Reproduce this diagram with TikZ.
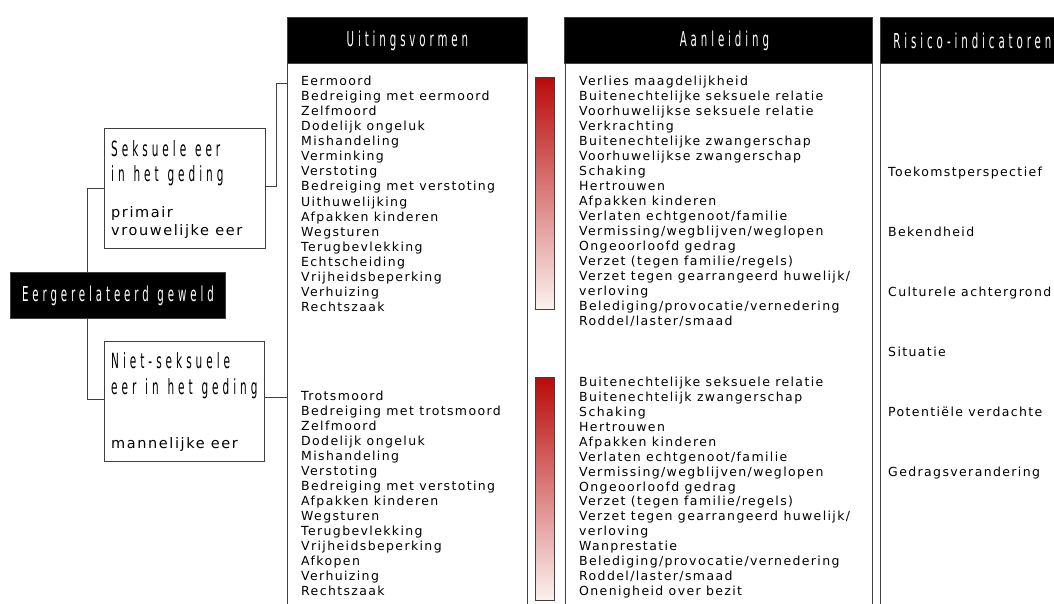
\documentclass[tikz,border=0pt]{standalone}
\usepackage{fontspec}
\newfontfamily\headfont[FakeStretch=0.5,LetterSpace=19,WordSpace=1.2]{DejaVu Sans}
\newfontfamily\bodyfont[LetterSpace=11]{DejaVu Sans}
\definecolor{linegray}{HTML}{404040}
\definecolor{bartop}{RGB}{185,10,10}
\definecolor{barmid}{RGB}{208,88,72}
\definecolor{barbot}{RGB}{251,242,240}
\begin{document}
\begin{tikzpicture}[x=1pt,y=-1pt,
  frame/.style={draw=linegray, line width=0.9pt, anchor=north west, inner sep=0pt},
  head/.style={fill=black, draw=linegray, line width=0.8pt, text=white, anchor=north west, inner sep=0pt, font=\fontsize{20.5}{24}\headfont},
  lbox/.style={draw=linegray, line width=0.9pt, fill=white, anchor=north west, inner sep=0pt},
  boxtitle/.style={anchor=base west, inner sep=0pt, font=\fontsize{21}{24}\headfont},
  boxsub/.style={anchor=base west, inner sep=0pt, font=\fontsize{14.5}{18}\bodyfont},
  item/.style={anchor=base west, inner sep=0pt, font=\fontsize{12.5}{15}\bodyfont},
  bar/.style={draw=linegray, line width=0.8pt, anchor=north west, inner sep=0pt, minimum width=19pt, top color=bartop, middle color=barmid, bottom color=barbot},
  conn/.style={draw=linegray, line width=0.9pt}]
\useasboundingbox (0,0) rectangle (1054,603);
\begin{scope}
\clip (0,0) rectangle (1054,603);
% columns
\node[frame, minimum width=240pt, minimum height=640pt] (ucol) at (287,17) {};
\node[frame, minimum width=307pt, minimum height=640pt] (acol) at (565,17) {};
\node[frame, minimum width=200pt, minimum height=640pt] (rcol) at (880,17) {};
\node[head, minimum width=240pt, minimum height=46pt] (uhead) at (287,17) {Uitingsvormen};
\node[head, minimum width=308pt, minimum height=46pt] (ahead) at (564,17) {\hspace{12pt}Aanleiding};
\node[head, minimum width=184pt, minimum height=46pt] (rhead) at (880,17) {Risico-indicatoren};
% gradient bars
\node[bar, minimum height=232pt] (bar1) at (535,77) {};
\node[bar, minimum height=223pt] (bar2) at (535,377) {};
% lists
\foreach \t [count=\i from 0] in {Eermoord, Bedreiging met eermoord, Zelfmoord, Dodelijk ongeluk, Mishandeling, Verminking, Verstoting, Bedreiging met verstoting, Uithuwelijking, Afpakken kinderen, Wegsturen, Terugbevlekking, Echtscheiding, Vrijheidsbeperking, Verhuizing, Rechtszaak}
  \node[item] (ua\i) at (301,85.5+15.07*\i) {\t};
\foreach \t [count=\i from 0] in {Trotsmoord, Bedreiging met trotsmoord, Zelfmoord, Dodelijk ongeluk, Mishandeling, Verstoting, Bedreiging met verstoting, Afpakken kinderen, Wegsturen, Terugbevlekking, Vrijheidsbeperking, Afkopen, Verhuizing, Rechtszaak}
  \node[item] (ub\i) at (301,400.5+15*\i) {\t};
\foreach \t [count=\i from 0] in {Verlies maagdelijkheid, Buitenechtelijke seksuele relatie, Voorhuwelijkse seksuele relatie, Verkrachting, Buitenechtelijke zwangerschap, Voorhuwelijkse zwangerschap, Schaking, Hertrouwen, Afpakken kinderen, {Verlaten echtgenoot/familie}, {Vermissing/wegblijven/weglopen}, Ongeoorloofd gedrag, {Verzet (tegen familie/regels)}, {Verzet tegen gearrangeerd huwelijk/}, verloving, {Belediging/provocatie/vernedering}, {Roddel/laster/smaad}}
  \node[item] (aa\i) at (579,85.5+15*\i) {\t};
\foreach \t [count=\i from 0] in {Buitenechtelijke seksuele relatie, Buitenechtelijk zwangerschap, Schaking, Hertrouwen, Afpakken kinderen, {Verlaten echtgenoot/familie}, {Vermissing/wegblijven/weglopen}, Ongeoorloofd gedrag, {Verzet (tegen familie/regels)}, {Verzet tegen gearrangeerd huwelijk/}, verloving, Wanprestatie, {Belediging/provocatie/vernedering}, {Roddel/laster/smaad}, Onenigheid over bezit}
  \node[item] (ab\i) at (579,386.5+14.93*\i) {\t};
\foreach \t [count=\i from 0] in {Toekomstperspectief, Bekendheid, Culturele achtergrond, Situatie, Potentiële verdachte, Gedragsverandering}
  \node[item] (ri\i) at (888,176.5+60*\i) {\t};
% left tree
\node[head, minimum width=215pt, minimum height=46pt] (root) at (10,272) {Eergerelateerd geweld};
\node[lbox, minimum width=161pt, minimum height=120pt] (sex) at (104,128) {};
\node[lbox, minimum width=160pt, minimum height=120pt] (nonsex) at (104,341) {};
\node[boxtitle] (sext1) at (111,156) {Seksuele eer};
\node[boxtitle] (sext2) at (111,181.5) {in het geding};
\node[boxsub] (sext3) at (111,217) {primair};
\node[boxsub] (sext4) at (111,235.5) {vrouwelijke eer};
\node[boxtitle] (nst1) at (111,368) {Niet-seksuele};
\node[boxtitle] (nst2) at (111,394) {eer in het geding};
\node[boxsub] (nst3) at (111,448) {mannelijke eer};
% connectors
\coordinate (uin) at (287,83);
\coordinate (sexE) at ([yshift=2pt]sex.east);
\coordinate (nsE) at ([yshift=4pt]nonsex.east);
\draw[conn] (sex.west) -| ([xshift=77pt]root.north west);
\draw[conn] ([yshift=2pt]nonsex.west) -| ([xshift=77pt]root.south west);
\draw[conn] (sexE) -- ++(11,0) |- (uin);
\draw[conn] (nsE) -- (nsE -| ucol.west);
\end{scope}
\end{tikzpicture}
\end{document}
